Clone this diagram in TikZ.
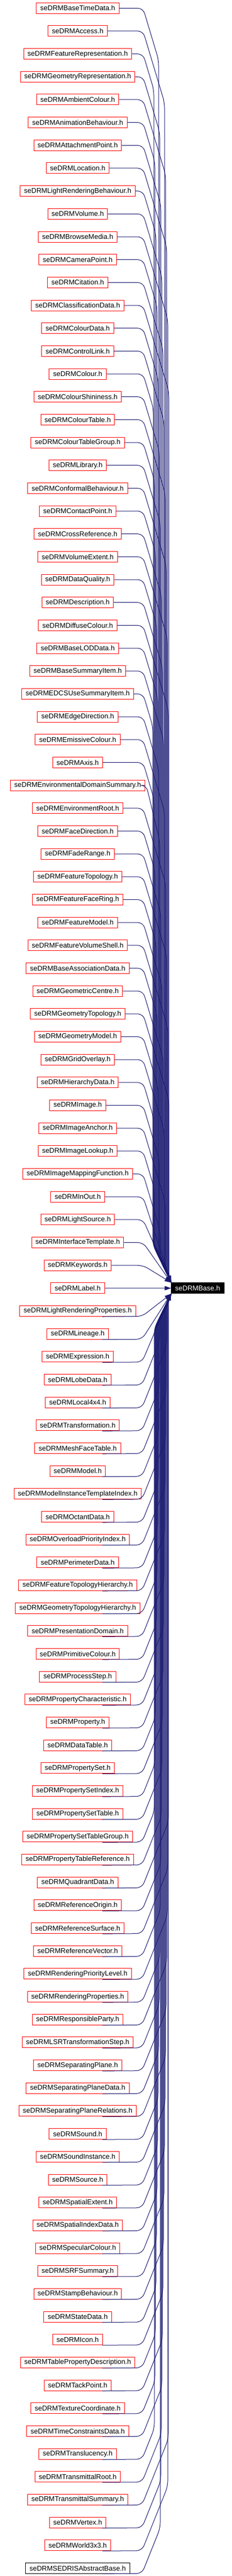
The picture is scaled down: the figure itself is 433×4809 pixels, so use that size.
\documentclass[tikz,border=0pt]{standalone}
\usepackage{fontspec}
\setmainfont{Liberation Sans}
\usetikzlibrary{calc}
\usetikzlibrary{arrows.meta}

\definecolor{edgeblue}{HTML}{191970}

\tikzset{
  file/.style = {draw = red, line width = 0.5pt, inner xsep = 3.6pt,
    inner ysep = 0pt, minimum height = 10pt,
    font = \fontsize{6.5}{7}\selectfont},
  rootfile/.style = {file, draw = black},
  basefile/.style = {file, draw = black, fill = black, text = white},
  dep/.style = {draw = edgeblue, line width = 0.5pt, rounded corners = 5pt,
    -{Triangle[length = 6pt, width = 4pt]}}
}

\begin{document}
\begin{tikzpicture}[x = 0.5pt, y = 0.5pt]
  \useasboundingbox (0, 0) rectangle (433, -4809);

  \foreach \name [count = \i] in {seDRMBaseTimeData, seDRMAccess,
    seDRMFeatureRepresentation, seDRMGeometryRepresentation,
    seDRMAmbientColour, seDRMAnimationBehaviour, seDRMAttachmentPoint,
    seDRMLocation, seDRMLightRenderingBehaviour, seDRMVolume,
    seDRMBrowseMedia, seDRMCameraPoint, seDRMCitation,
    seDRMClassificationData, seDRMColourData, seDRMControlLink, seDRMColour,
    seDRMColourShininess, seDRMColourTable, seDRMColourTableGroup,
    seDRMLibrary, seDRMConformalBehaviour, seDRMContactPoint,
    seDRMCrossReference, seDRMVolumeExtent, seDRMDataQuality,
    seDRMDescription, seDRMDiffuseColour, seDRMBaseLODData,
    seDRMBaseSummaryItem, seDRMEDCSUseSummaryItem, seDRMEdgeDirection,
    seDRMEmissiveColour, seDRMAxis, seDRMEnvironmentalDomainSummary,
    seDRMEnvironmentRoot, seDRMFaceDirection, seDRMFadeRange,
    seDRMFeatureTopology, seDRMFeatureFaceRing, seDRMFeatureModel,
    seDRMFeatureVolumeShell, seDRMBaseAssociationData, seDRMGeometricCentre,
    seDRMGeometryTopology, seDRMGeometryModel, seDRMGridOverlay,
    seDRMHierarchyData, seDRMImage, seDRMImageAnchor, seDRMImageLookup,
    seDRMImageMappingFunction, seDRMInOut, seDRMLightSource,
    seDRMInterfaceTemplate, seDRMKeywords, seDRMLabel,
    seDRMLightRenderingProperties, seDRMLineage, seDRMExpression,
    seDRMLobeData, seDRMLocal4x4, seDRMTransformation, seDRMMeshFaceTable,
    seDRMModel, seDRMModelInstanceTemplateIndex, seDRMOctantData,
    seDRMOverloadPriorityIndex, seDRMPerimeterData,
    seDRMFeatureTopologyHierarchy, seDRMGeometryTopologyHierarchy,
    seDRMPresentationDomain, seDRMPrimitiveColour, seDRMProcessStep,
    seDRMPropertyCharacteristic, seDRMProperty, seDRMDataTable,
    seDRMPropertySet, seDRMPropertySetIndex, seDRMPropertySetTable,
    seDRMPropertySetTableGroup, seDRMPropertyTableReference,
    seDRMQuadrantData, seDRMReferenceOrigin, seDRMReferenceSurface,
    seDRMReferenceVector, seDRMRenderingPriorityLevel,
    seDRMRenderingProperties, seDRMResponsibleParty,
    seDRMLSRTransformationStep, seDRMSeparatingPlane,
    seDRMSeparatingPlaneData, seDRMSeparatingPlaneRelations, seDRMSound,
    seDRMSoundInstance, seDRMSource, seDRMSpatialExtent,
    seDRMSpatialIndexData, seDRMSpecularColour, seDRMSRFSummary,
    seDRMStampBehaviour, seDRMStateData, seDRMIcon,
    seDRMTablePropertyDescription, seDRMTackPoint, seDRMTextureCoordinate,
    seDRMTimeConstraintsData, seDRMTranslucency, seDRMTransmittalRoot,
    seDRMTransmittalSummary, seDRMVertex, seDRMWorld3x3} {
    \node[file] (n\i) at (145, {-(15.3 + (\i - 1) * 42.67)}) {\name.h};
  }
  \node[rootfile] (n113) at (145, {-(15.3 + 112 * 42.67)})
  {seDRMSEDRISAbstractBase.h};

  \node[basefile] (base) at (368.9, -2404.8) {seDRMBase.h};

  \foreach \i in {1, ..., 56} {
    \pgfmathsetmacro{\yc}{15.3 + (\i - 1) * 42.67}
    \pgfmathtruncatemacro{\xb}{285 + mod(\i * 11, 31)}
    \pgfmathsetmacro{\jy}{\yc + (\xb - 267) / 0.3}
    \pgfmathsetmacro{\ey}{2395 - 2 * (321 - \xb)}
    \pgfmathtruncatemacro{\direct}{\jy + 15 > \ey}
    \ifnum\direct = 1
      \draw[dep] let \p1 = (n\i.east) in (\p1)
      -- ({max(\x1 + 1pt, 133.5pt)}, \y1) -- (base.north west);
    \else
      \draw[dep] let \p1 = (n\i.east) in (\p1)
      -- ({max(\x1 + 1pt, 133.5pt)}, \y1) -- (\xb, -\jy) -- (\xb, -\ey)
      -- (base.north west);
    \fi
  }

  \draw[dep] (n57.east) -- (base.west);

  \foreach \i in {58, ..., 113} {
    \pgfmathsetmacro{\yc}{15.3 + (\i - 1) * 42.67}
    \pgfmathsetmacro{\by}{\yc + 10}
    \pgfmathtruncatemacro{\xb}{288 + mod(\i * 13, 27)}
    \pgfmathsetmacro{\jy}{\by - (\xb - 265) / 0.4}
    \pgfmathsetmacro{\ey}{2414 + 2 * (321 - \xb)}
    \pgfmathtruncatemacro{\direct}{\jy - 15 < \ey}
    \ifnum\direct = 1
      \draw[dep] ($(n\i.south) + (46, 0)$) -- (265, -\by) -- (base.south west);
    \else
      \draw[dep] ($(n\i.south) + (46, 0)$) -- (265, -\by) -- (\xb, -\jy)
      -- (\xb, -\ey) -- (base.south west);
    \fi
  }
\end{tikzpicture}
\end{document}
